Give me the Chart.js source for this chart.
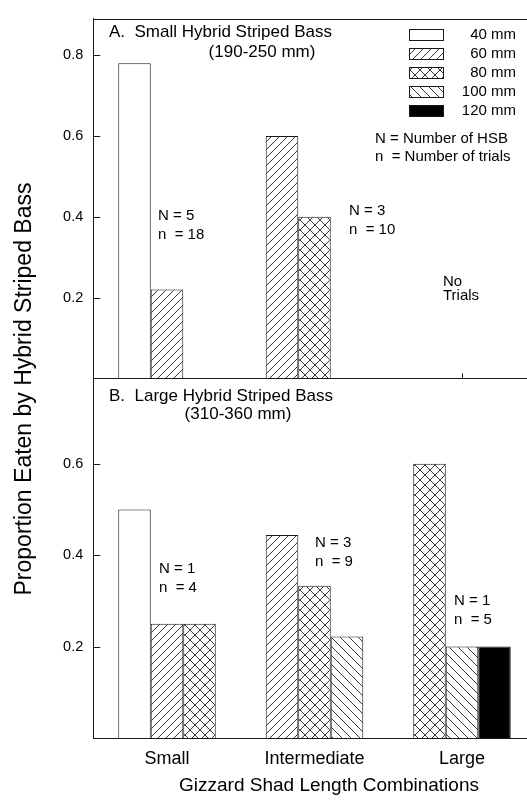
<!DOCTYPE html>
<html>
<head>
<meta charset="utf-8">
<script src="https://cdn.jsdelivr.net/npm/chart.js@4.4.0/dist/chart.umd.min.js"></script>
<style>
  html, body { margin: 0; padding: 0; background: #fff; overflow: hidden; }
  #wrap { width: 527px; height: 803px; overflow: hidden; position: relative; }
  #wrap canvas { position: absolute; left: 0; top: 0; }
</style>
</head>
<body>
<div id="wrap"><canvas id="chart" width="545" height="803"></canvas></div>
<script>
const categories = ["Small", "Intermediate", "Large"];
const sizeLabels = ["40 mm", "60 mm", "80 mm", "100 mm", "120 mm"];

// A. small hybrid striped bass, one array per gizzard shad length
const smallHsb40 = [0.78, null, null];
const smallHsb60 = [0.22, 0.60, null];
const smallHsb80 = [null, 0.40, null];
const smallHsb100 = [null, null, null];
const smallHsb120 = [null, null, null];

// B. large hybrid striped bass
const largeHsb40 = [0.50, null, null];
const largeHsb60 = [0.25, 0.444, null];
const largeHsb80 = [0.25, 0.333, 0.60];
const largeHsb100 = [null, 0.222, 0.20];
const largeHsb120 = [null, null, 0.20];

const yTicksA = [0.2, 0.4, 0.6, 0.8];
const yTicksB = [0.2, 0.4, 0.6];

const FONT = "'Liberation Sans', Arial, sans-serif";
const INK = "#1a1a1a";
Chart.defaults.font.family = FONT;
Chart.defaults.color = "#000";

// hatch fills: f = "/", b = "\", x = cross
function makePattern(kind, p) {
  const c = document.createElement("canvas");
  c.width = p; c.height = p;
  const g = c.getContext("2d");
  g.fillStyle = "#fff";
  g.fillRect(0, 0, p, p);
  g.strokeStyle = "#222";
  g.lineWidth = 0.9;
  g.beginPath();
  if (kind === "f" || kind === "x") {
    g.moveTo(0, p); g.lineTo(p, 0);
    g.moveTo(-1, 1); g.lineTo(1, -1);
    g.moveTo(p - 1, p + 1); g.lineTo(p + 1, p - 1);
  }
  if (kind === "b" || kind === "x") {
    g.moveTo(0, 0); g.lineTo(p, p);
    g.moveTo(-1, p - 1); g.lineTo(1, p + 1);
    g.moveTo(p - 1, -1); g.lineTo(p + 1, 1);
  }
  g.stroke();
  return g.createPattern(c, "repeat");
}

const fills = ["#fff", makePattern("f", 8), makePattern("x", 10), makePattern("b", 9), "#000"];

// bars sit left to right in the order they exist, so each panel gets 3 slots
function slotDatasets(series, axisId) {
  const out = [];
  for (let k = 0; k < 3; k++) {
    out.push({
      stack: "slot" + k,
      yAxisID: axisId,
      data: [],
      backgroundColor: [],
      borderColor: INK,
      borderWidth: 1,
      barPercentage: 1,
      categoryPercentage: 0.661
    });
  }
  categories.forEach((cat, i) => {
    let k = 0;
    series.forEach((s, j) => {
      if (s[i] !== null) {
        out[k].data[i] = s[i];
        out[k].backgroundColor[i] = fills[j];
        k++;
      }
    });
    for (; k < 3; k++) {
      out[k].data[i] = null;
      out[k].backgroundColor[i] = "#fff";
    }
  });
  return out;
}

const datasets = [
  ...slotDatasets([smallHsb40, smallHsb60, smallHsb80, smallHsb100, smallHsb120], "yA"),
  ...slotDatasets([largeHsb40, largeHsb60, largeHsb80, largeHsb100, largeHsb120], "yB")
];

const notes = [
  { text: "A.  Small Hybrid Striped Bass", x: 109, y: 32, size: 17 },
  { text: "(190-250 mm)", x: 262, y: 52, size: 17, align: "center" },
  { text: "N = 5", x: 158, y: 216 },
  { text: "n  = 18", x: 158, y: 235 },
  { text: "N = 3", x: 349, y: 211 },
  { text: "n  = 10", x: 349, y: 230 },
  { text: "No", x: 443, y: 282 },
  { text: "Trials", x: 443, y: 296 },
  { text: "N = Number of HSB", x: 375, y: 139 },
  { text: "n  = Number of trials", x: 375, y: 157 },
  { text: "B.  Large Hybrid Striped Bass", x: 109, y: 396, size: 17 },
  { text: "(310-360 mm)", x: 238, y: 414, size: 17, align: "center" },
  { text: "N = 1", x: 159, y: 569 },
  { text: "n  = 4", x: 159, y: 588 },
  { text: "N = 3", x: 315, y: 543 },
  { text: "n  = 9", x: 315, y: 562 },
  { text: "N = 1", x: 454, y: 601 },
  { text: "n  = 5", x: 454, y: 620 }
];

function yAxis(max, tickList) {
  return {
    type: "linear",
    position: "left",
    stack: "panels",
    stackWeight: 1,
    min: 0,
    max: max,
    grid: { display: false, drawTicks: false, tickLength: 0 },
    border: { display: true, color: INK, width: 1 },
    ticks: {
      color: "#000",
      padding: 10,
      font: { size: 14.5 },
      callback: (v) => v.toFixed(1)
    },
    afterBuildTicks: (s) => { s.ticks = tickList.map((v) => ({ value: v })); },
    afterFit: (s) => { s.width = 93.25; }
  };
}

const decor = {
  id: "decor",
  beforeDatasetsDraw(chart) {
    const { ctx, scales } = chart;
    ctx.save();
    ctx.strokeStyle = INK;
    ctx.lineWidth = 1;
    ctx.beginPath();
    [scales.yA, scales.yB].forEach((s) => {
      categories.forEach((c, i) => {
        const x = Math.round(scales.x.getPixelForValue(i)) + 0.5;
        ctx.moveTo(x, s.bottom);
        ctx.lineTo(x, s.bottom - 5);
      });
    });
    ctx.stroke();
    ctx.restore();
  },
  afterDatasetsDraw(chart) {
    const { ctx, chartArea, scales } = chart;
    ctx.save();
    ctx.strokeStyle = INK;
    ctx.lineWidth = 1;
    ctx.beginPath();
    const top = Math.round(chartArea.top) + 0.5;
    ctx.moveTo(chartArea.left, top);
    ctx.lineTo(chartArea.right, top);
    const mid = Math.round(scales.yA.bottom) + 0.5;
    ctx.moveTo(chartArea.left, mid);
    ctx.lineTo(chartArea.right, mid);
    [scales.yA, scales.yB].forEach((s) => {
      s.ticks.forEach((t) => {
        const y = Math.round(s.getPixelForValue(t.value)) + 0.5;
        ctx.moveTo(chartArea.left, y);
        ctx.lineTo(chartArea.left + 7, y);
      });
    });
    ctx.stroke();

    // legend
    ctx.font = "15px " + FONT;
    ctx.textBaseline = "middle";
    sizeLabels.forEach((lab, j) => {
      const y = 29 + j * 19;
      ctx.fillStyle = fills[j];
      ctx.fillRect(409, y, 34, 11);
      ctx.strokeRect(409.5, y + 0.5, 34, 11);
      ctx.fillStyle = "#000";
      ctx.textAlign = "right";
      ctx.fillText(lab, 516, y + 6);
    });

    notes.forEach((n) => {
      ctx.font = (n.size || 15) + "px " + FONT;
      ctx.textAlign = n.align || "left";
      ctx.fillStyle = "#000";
      ctx.fillText(n.text, n.x, n.y);
    });

    // axis titles
    ctx.font = "19px " + FONT;
    ctx.textAlign = "center";
    ctx.fillText("Gizzard Shad Length Combinations", 329, 786);
    ctx.translate(25, 389);
    ctx.rotate(-Math.PI / 2);
    ctx.font = "23px " + FONT;
    ctx.fillText("Proportion Eaten by Hybrid Striped Bass", 0, 0);
    ctx.restore();
  }
};

new Chart(document.getElementById("chart"), {
  type: "bar",
  data: { labels: categories, datasets: datasets },
  options: {
    responsive: false,
    animation: false,
    layout: { padding: { top: 13, right: 9.25, left: 0, bottom: 0 } },
    plugins: { legend: { display: false }, tooltip: { enabled: false } },
    scales: {
      x: {
        type: "category",
        offset: true,
        grid: { display: false, drawTicks: false, tickLength: 0 },
        border: { display: true, color: INK, width: 1 },
        ticks: { color: "#000", padding: 10, font: { size: 18 }, maxRotation: 0, autoSkip: false },
        afterFit: (s) => { s.height = 65; }
      },
      yB: yAxis(0.787, yTicksB),
      yA: yAxis(0.89, yTicksA)
    }
  },
  plugins: [decor]
});
</script>
</body>
</html>
